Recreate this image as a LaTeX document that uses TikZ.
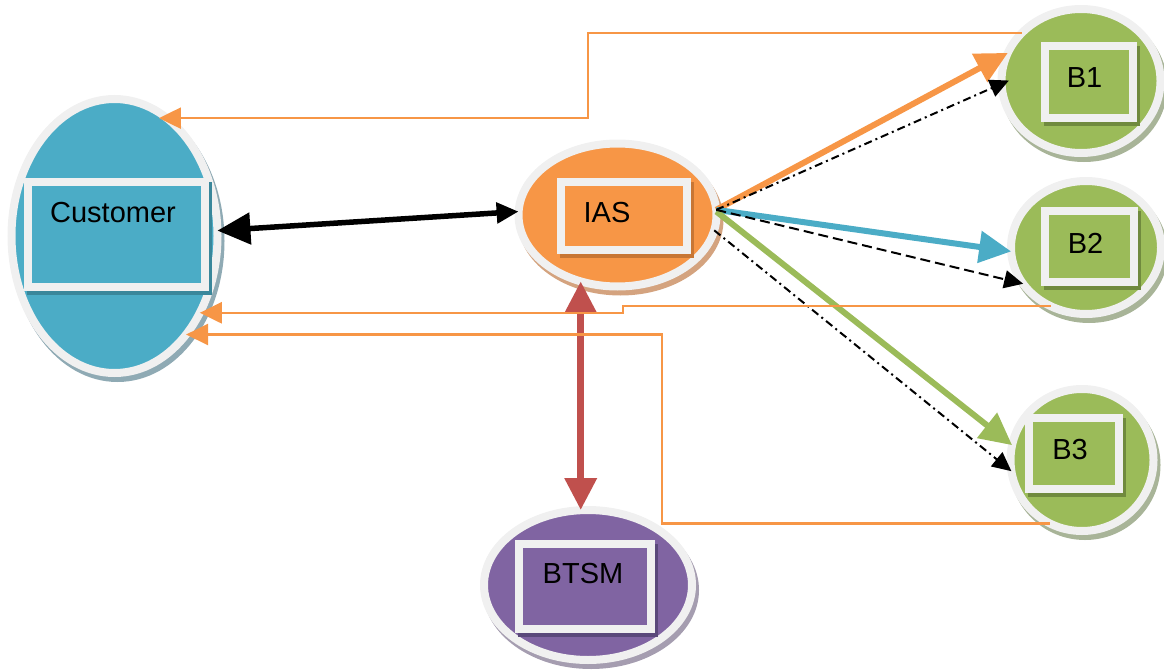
\documentclass[tikz,border=0pt]{standalone}
\usepackage{fontspec}
\setmainfont{Liberation Sans}
\usetikzlibrary{arrows.meta,shadows,shapes.geometric}
\definecolor{ring}{RGB}{240,240,240}
\definecolor{cblue}{RGB}{75,172,198}
\definecolor{corange}{RGB}{247,150,70}
\definecolor{cpurple}{RGB}{128,100,162}
\definecolor{cgreen}{RGB}{155,187,89}
\definecolor{cred}{RGB}{192,80,77}
\definecolor{sblue}{RGB}{143,170,180}
\definecolor{sorange}{RGB}{212,163,127}
\definecolor{spurple}{RGB}{165,157,176}
\definecolor{sgreen}{RGB}{168,180,152}
\definecolor{rblue}{RGB}{58,135,155}
\definecolor{rorange}{RGB}{200,118,52}
\definecolor{rpurple}{RGB}{90,72,122}
\definecolor{rgreen}{RGB}{112,138,62}
\begin{document}
\begin{tikzpicture}[x=1pt,y=-1pt,
  blob/.style={ellipse, draw=ring, line width=8pt, inner sep=0pt, outer sep=0pt,
    general shadow={draw=#1, fill=#1, line width=8pt, shadow xshift=3pt, shadow yshift=-5pt}},
  inbox/.style={rectangle, draw=ring, line width=8pt, inner sep=0pt, outer sep=0pt,
    general shadow={draw=#1, fill=#1, line width=8pt, shadow xshift=3pt, shadow yshift=-4pt}},
  lbl/.style={font=\fontsize{29}{33}\selectfont, inner sep=0pt, text=black},
  tkarrow/.style={line width=6pt, -{Triangle[length=32pt,width=31pt]}},
  thinor/.style={draw=corange, line width=2.5pt, -{Triangle[length=22pt,width=21pt]}},
  dsh/.style={draw=black, line width=2pt, dash pattern=on 10pt off 5pt, -{Triangle[length=19pt,width=18pt]}},
  dshdot/.style={draw=black, line width=2pt, dash pattern=on 8pt off 4pt on 2pt off 4pt, -{Triangle[length=19pt,width=18pt]}},
]
\useasboundingbox (0,0) rectangle (1164,669);

% Customer
\node[blob=sblue, fill=cblue, minimum width=206pt, minimum height=274pt] (cust) at (114.5,236) {};
\node[inbox=rblue, fill=cblue, minimum width=177pt, minimum height=104.5pt] (custbox) at (116.5,234.7) {};
\node[lbl] (custtxt) at (113,212.5) {Customer};

% IAS
\node[blob=sorange, fill=corange, minimum width=198pt, minimum height=143pt] (ias) at (617.5,215) {};
\node[inbox=rorange, fill=corange, minimum width=126pt, minimum height=68.5pt] (iasbox) at (624,216) {};
\node[lbl] (iastxt) at (607,212.5) {IAS};

% BTSM
\node[blob=spurple, fill=cpurple, minimum width=208pt, minimum height=150pt] (btsm) at (588,585) {};
\node[inbox=rpurple, fill=cpurple, minimum width=132pt, minimum height=85pt] (btsmbox) at (585,586.5) {};
\node[lbl] (btsmtxt) at (583,573.5) {BTSM};

% B1
\node[blob=sgreen, fill=cgreen, minimum width=159pt, minimum height=144pt] (b1) at (1081,81) {};
\node[inbox=rgreen, fill=cgreen, minimum width=88.5pt, minimum height=71pt] (b1box) at (1089,82) {};
\node[lbl] (b1txt) at (1084.5,78) {B1};

% B2
\node[blob=sgreen, fill=cgreen, minimum width=150pt, minimum height=133pt] (b2) at (1086,247.5) {};
\node[inbox=rgreen, fill=cgreen, minimum width=89pt, minimum height=70.5pt] (b2box) at (1089,246.7) {};
\node[lbl] (b2txt) at (1085.5,243) {B2};

% B3
\node[blob=sgreen, fill=cgreen, minimum width=143pt, minimum height=142pt] (b3) at (1082,460) {};
\node[inbox=rgreen, fill=cgreen, minimum width=90pt, minimum height=71pt] (b3box) at (1074,453) {};
\node[lbl] (b3txt) at (1070,450) {B3};

% Customer <-> IAS
\draw[line width=5.5pt, {Triangle[length=33pt,width=31pt]}-{Triangle[length=22pt,width=20pt]}] (cust.3) -- (ias.178);

% IAS <-> BTSM
\draw[draw=cred, line width=7pt, {Triangle[length=32pt,width=31pt]}-{Triangle[length=32pt,width=31pt]}] (ias.241) -- (ias.241 |- btsm.north);

% IAS -> B nodes
\draw[tkarrow, draw=corange, fill=corange] (ias.3) -- (b1.159);
\draw[tkarrow, draw=cblue, fill=cblue] (ias.3) -- (b2.183);
\draw[tkarrow, draw=cgreen, fill=cgreen] (ias.2) -- (b3.168);
\draw[dshdot, shorten >=-8pt] (ias.3) -- (b1.182);
\draw[dsh] (ias.3) -- (b2.210);
\draw[dshdot] (ias.351) -- (b3.189);

% return lines to Customer
\coordinate (k1) at (588,0);
\coordinate (k2) at (623,0);
\coordinate (k3) at (662,0);
\draw[thinor, shorten >=-8pt] (b1.141) -- (b1.141 -| k1) |- (cust.66);
\draw[thinor] (b2.239) -- (b2.239 -| k2) |- (cust.318);
\draw[thinor] (b3.243) -- (b3.243 -| k3) |- (cust.306);
\end{tikzpicture}
\end{document}
